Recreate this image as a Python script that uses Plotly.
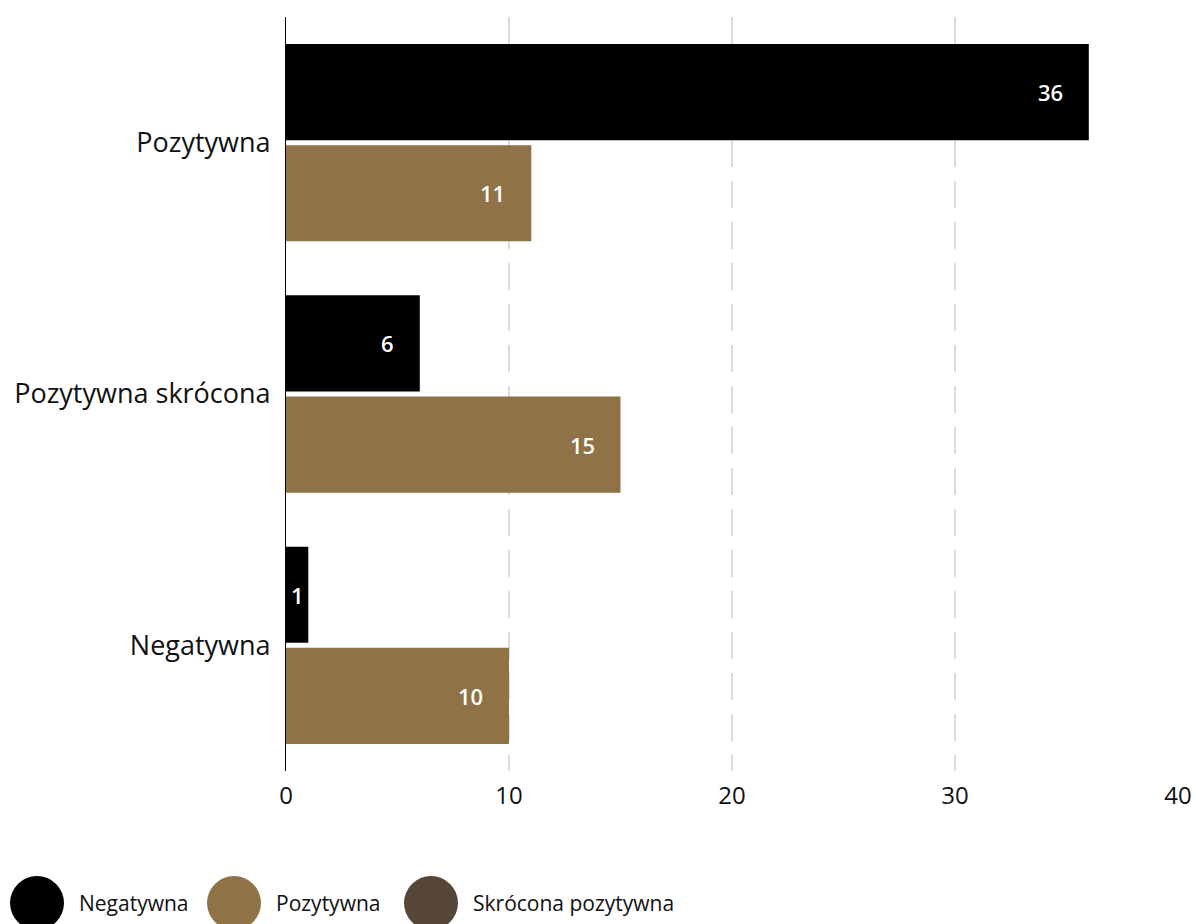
import plotly.graph_objects as go

categories = ["Pozytywna", "Pozytywna skrócona", "Negatywna"]
series_names = ["Negatywna", "Pozytywna", "Skrócona pozytywna"]
negatywna = [36, 6, 1]
pozytywna = [11, 15, 10]
colors = ["#000000", "#8f7245", "#554638"]
x_ticks = [0, 10, 20, 30, 40]

FONT = "Open Sans"

fig = go.Figure()
fig.add_trace(go.Bar(y=categories, x=negatywna, orientation="h", name=series_names[0],
                     marker=dict(color=colors[0], line=dict(width=0)), showlegend=False))
fig.add_trace(go.Bar(y=categories, x=pozytywna, orientation="h", name=series_names[1],
                     marker=dict(color=colors[1], line=dict(width=0)), showlegend=False))

# value labels (inside, near end)
offset = 0.201
for vals, sign in ((negatywna, -1), (pozytywna, 1)):
    for i, v in enumerate(vals):
        small = v < 2
        fig.add_annotation(
            x=v / 2 if small else v, y=i + sign * offset, xref="x", yref="y",
            text=str(v), showarrow=False,
            xanchor="center" if small else "right",
            xshift=0 if small else -24,
            font=dict(family=FONT, size=22, color="#ffffff", weight=600),
        )

# custom legend with large circles
PL, PW, PB, PH = 286, 892, 771, 754
leg_x = [10, 207, 404]
for name, col, x0 in zip(series_names, colors, leg_x):
    fig.add_shape(type="circle", xref="paper", yref="paper",
                  x0=(x0 - PL) / PW, x1=(x0 + 54 - PL) / PW,
                  y0=(PB - 930) / PH, y1=(PB - 876) / PH,
                  fillcolor=col, line=dict(width=0))
    fig.add_annotation(xref="paper", yref="paper",
                       x=(x0 + 67 - PL) / PW, y=(PB - 903) / PH,
                       text=name, showarrow=False, xanchor="left", yanchor="middle",
                       font=dict(family=FONT, size=21, color="#111111"))

fig.update_layout(
    width=1196, height=924,
    margin=dict(l=286, r=18, t=17, b=153),
    paper_bgcolor="white", plot_bgcolor="white",
    barmode="group", bargap=0.195, bargroupgap=0.05,
    font=dict(family=FONT, size=24, color="#111111"),
    xaxis=dict(range=[0, 40], tickvals=x_ticks, showgrid=True, gridcolor="#dcdcdc",
               gridwidth=1.5, griddash="27px,14px", zeroline=False, showline=False,
               ticks="", tickfont=dict(size=24, color="#111111"), ticklabelstandoff=8,
               automargin=False),
    yaxis=dict(autorange="reversed", showline=True, linecolor="#000000", linewidth=1,
               showgrid=False, ticks="", tickfont=dict(size=27, color="#111111"),
               ticklabelstandoff=9, automargin=False),
)

fig.write_html("out.html", config={"displayModeBar": False},
               post_script="document.body.style.margin='0';document.body.style.overflow='hidden';")
